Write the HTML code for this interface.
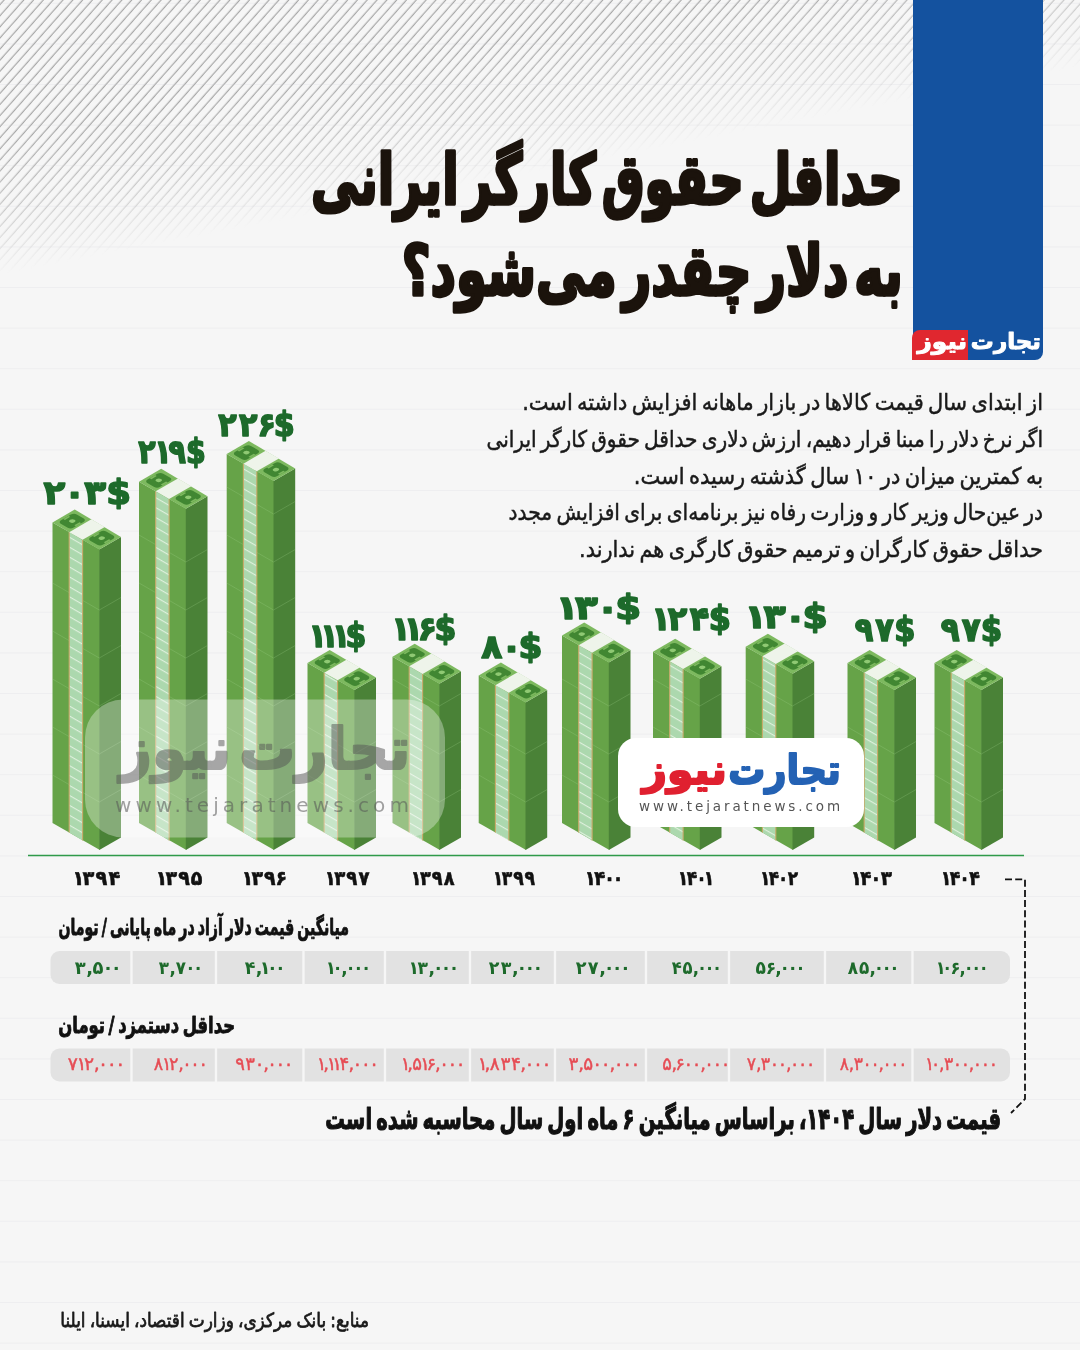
<!DOCTYPE html>
<html lang="fa"><head><meta charset="utf-8"><title>حداقل حقوق کارگر ایرانی به دلار چقدر می‌شود؟</title>
<style>html,body{margin:0;padding:0;background:#f6f6f6}body{width:1080px;height:1350px;overflow:hidden;position:relative}svg{display:block;position:absolute;left:0;top:0}text{font-family:"DejaVu Sans","Liberation Sans",sans-serif}</style></head><body>
<svg width="1080" height="1350" viewBox="0 0 1080 1350">
<defs>
<pattern id="hatch" width="40" height="7.35" patternUnits="userSpaceOnUse" patternTransform="rotate(-48.5)"><line x1="0" y1="3" x2="40" y2="3" stroke="#888" stroke-width=".9"/></pattern>
<linearGradient id="fade" gradientUnits="userSpaceOnUse" x1="0" y1="140" x2="25" y2="270"><stop offset="0" stop-color="#fff"/><stop offset=".5" stop-color="#999"/><stop offset="1" stop-color="#000"/></linearGradient>
<mask id="hm"><rect x="0" y="0" width="1080" height="300" fill="url(#fade)"/></mask>
<pattern id="strap" width="60" height="8.6" patternUnits="userSpaceOnUse" patternTransform="rotate(30)"><rect width="60" height="8.6" fill="#acd8ae"/><rect y="0" width="60" height="1.1" fill="#dff0dd"/></pattern>
</defs>
<rect width="1080" height="1350" fill="#f6f6f6"/>
<rect x="0" y="0" width="1080" height="300" fill="url(#hatch)" mask="url(#hm)"/>
<path d="M0 3.3H1080M0 43.9H1080M0 84.5H1080M0 125.1H1080M0 165.7H1080M0 206.3H1080M0 246.9H1080M0 287.5H1080M0 328.1H1080M0 368.7H1080M0 409.3H1080M0 449.9H1080M0 490.5H1080M0 531.1H1080M0 571.7H1080M0 612.3H1080M0 652.9H1080M0 693.5H1080M0 734.1H1080M0 774.7H1080M0 815.3H1080M0 855.9H1080M0 896.5H1080M0 937.1H1080M0 977.7H1080M0 1018.3H1080M0 1058.9H1080M0 1099.5H1080M0 1140.1H1080M0 1180.7H1080M0 1221.3H1080M0 1261.9H1080M0 1302.5H1080M0 1343.1H1080" stroke="#c4c4d2" stroke-opacity=".16" stroke-width="1"/>
<path d="M913 0 H1043 V352 a8 8 0 0 1 -8 8 H913 Z" fill="#14529f"/>
<path d="M912 338 a8 8 0 0 1 8 -8 H968 V360 H912 Z" fill="#e0272f"/>
<text id="lg1" transform="translate(1041.00 348.5) scale(1.0455 1)" direction="rtl" font-weight="bold" font-size="22" fill="#fff" stroke="#fff" stroke-width="1" stroke-linejoin="round">تجارت</text>
<text id="lg2" transform="translate(967.00 348.5) scale(1.1333 1)" direction="rtl" font-weight="bold" font-size="22" fill="#fff" stroke="#fff" stroke-width="1" stroke-linejoin="round">نیوز</text>
<text id="t1" transform="translate(903.00 204.0) scale(0.6869 1)" direction="rtl" font-weight="bold" font-size="70" fill="#1b130c" stroke="#1b130c" stroke-width="3.6" stroke-linejoin="round" word-spacing="-16">حداقل حقوق کارگر ایرانی</text>
<text id="t2" transform="translate(903.00 295.0) scale(0.7090 1)" direction="rtl" font-weight="bold" font-size="70" fill="#1b130c" stroke="#1b130c" stroke-width="3.6" stroke-linejoin="round" word-spacing="-16">به دلار چقدر می‌شود؟</text>
<text id="p0" transform="translate(1043.00 410.3) scale(0.9106 1)" direction="rtl" font-size="23" fill="#1a1a1a" stroke="#1a1a1a" stroke-width="0.5" stroke-linejoin="round" word-spacing="-2.5">از ابتدای سال قیمت کالاها در بازار ماهانه افزایش داشته است.</text>
<text id="p1" transform="translate(1043.00 446.9) scale(0.8752 1)" direction="rtl" font-size="23" fill="#1a1a1a" stroke="#1a1a1a" stroke-width="0.5" stroke-linejoin="round" word-spacing="-2.5">اگر نرخ دلار را مبنا قرار دهیم، ارزش دلاری حداقل حقوق کارگر ایرانی</text>
<text id="p2" transform="translate(1043.00 483.5) scale(0.9146 1)" direction="rtl" font-size="23" fill="#1a1a1a" stroke="#1a1a1a" stroke-width="0.5" stroke-linejoin="round" word-spacing="-2.5">به کمترین میزان در ۱۰ سال گذشته رسیده است.</text>
<text id="p3" transform="translate(1043.00 520.1) scale(0.8810 1)" direction="rtl" font-size="23" fill="#1a1a1a" stroke="#1a1a1a" stroke-width="0.5" stroke-linejoin="round" word-spacing="-2.5">در عین‌حال وزیر کار و وزارت رفاه نیز برنامه‌ای برای افزایش مجدد</text>
<text id="p4" transform="translate(1043.00 556.7) scale(0.9077 1)" direction="rtl" font-size="23" fill="#1a1a1a" stroke="#1a1a1a" stroke-width="0.5" stroke-linejoin="round" word-spacing="-2.5">حداقل حقوق کارگران و ترمیم حقوق کارگری هم ندارند.</text>
<polygon points="52.5,522.5 99.9,549.5 99.9,850.0 52.5,823.0" fill="#66a348"/>
<polygon points="99.3,549.5 121.0,537.0 121.0,837.5 99.3,850.0" fill="#4a8237"/>
<path d="M52.5 775.0 l46.8 27.0 l21.7 -12.5M52.5 727.0 l46.8 27.0 l21.7 -12.5M52.5 679.0 l46.8 27.0 l21.7 -12.5M52.5 631.0 l46.8 27.0 l21.7 -12.5M52.5 583.0 l46.8 27.0 l21.7 -12.5" stroke="#a5d68e" stroke-opacity=".35" stroke-width=".7" fill="none"/>
<polygon points="69.2,532.1 82.6,539.9 82.6,840.4 69.2,832.6" fill="url(#strap)"/>
<path d="M69.2 532.1 V832.6 M82.6 539.9 V840.4" stroke="#c9aa6c" stroke-width="1.1"/>
<polygon points="74.7,509.5 121.0,537.0 99.3,549.5 52.5,522.5" fill="#7db95f"/>
<g transform="matrix(46.80 27.02 22.20 -12.82 52.50 522.50)">
<rect x="0.050" y=".14" width=".27" height=".72" rx=".06" ry=".14" fill="#418732"/><ellipse cx="0.185" cy=".5" rx=".045" ry=".1" fill="#8fc973"/>
<path d="M0.050 .38h.035v.24h-.035zM0.285 .38h.035v.24h-.035z" fill="#7db95f"/>
<rect x="0.680" y=".14" width=".27" height=".72" rx=".06" ry=".14" fill="#418732"/><ellipse cx="0.815" cy=".5" rx=".045" ry=".1" fill="#8fc973"/>
<path d="M0.680 .38h.035v.24h-.035zM0.915 .38h.035v.24h-.035z" fill="#7db95f"/>
<rect x="0.357" y="0" width="0.286" height="1" fill="#eef4ea"/>
</g>
<polygon points="139.0,481.7 186.4,508.7 186.4,850.0 139.0,823.0" fill="#66a348"/>
<polygon points="185.8,508.7 207.5,496.2 207.5,837.5 185.8,850.0" fill="#4a8237"/>
<path d="M139.0 775.0 l46.8 27.0 l21.7 -12.5M139.0 727.0 l46.8 27.0 l21.7 -12.5M139.0 679.0 l46.8 27.0 l21.7 -12.5M139.0 631.0 l46.8 27.0 l21.7 -12.5M139.0 583.0 l46.8 27.0 l21.7 -12.5M139.0 535.0 l46.8 27.0 l21.7 -12.5" stroke="#a5d68e" stroke-opacity=".35" stroke-width=".7" fill="none"/>
<polygon points="155.7,491.3 169.1,499.1 169.1,840.4 155.7,832.6" fill="url(#strap)"/>
<path d="M155.7 491.3 V832.6 M169.1 499.1 V840.4" stroke="#c9aa6c" stroke-width="1.1"/>
<polygon points="161.2,468.7 207.5,496.2 185.8,508.7 139.0,481.7" fill="#7db95f"/>
<g transform="matrix(46.80 27.02 22.20 -12.82 139.00 481.70)">
<rect x="0.050" y=".14" width=".27" height=".72" rx=".06" ry=".14" fill="#418732"/><ellipse cx="0.185" cy=".5" rx=".045" ry=".1" fill="#8fc973"/>
<path d="M0.050 .38h.035v.24h-.035zM0.285 .38h.035v.24h-.035z" fill="#7db95f"/>
<rect x="0.680" y=".14" width=".27" height=".72" rx=".06" ry=".14" fill="#418732"/><ellipse cx="0.815" cy=".5" rx=".045" ry=".1" fill="#8fc973"/>
<path d="M0.680 .38h.035v.24h-.035zM0.915 .38h.035v.24h-.035z" fill="#7db95f"/>
<rect x="0.357" y="0" width="0.286" height="1" fill="#eef4ea"/>
</g>
<polygon points="226.7,454.0 274.1,481.0 274.1,850.0 226.7,823.0" fill="#66a348"/>
<polygon points="273.5,481.0 295.2,468.5 295.2,837.5 273.5,850.0" fill="#4a8237"/>
<path d="M226.7 775.0 l46.8 27.0 l21.7 -12.5M226.7 727.0 l46.8 27.0 l21.7 -12.5M226.7 679.0 l46.8 27.0 l21.7 -12.5M226.7 631.0 l46.8 27.0 l21.7 -12.5M226.7 583.0 l46.8 27.0 l21.7 -12.5M226.7 535.0 l46.8 27.0 l21.7 -12.5M226.7 487.0 l46.8 27.0 l21.7 -12.5" stroke="#a5d68e" stroke-opacity=".35" stroke-width=".7" fill="none"/>
<polygon points="243.4,463.6 256.8,471.4 256.8,840.4 243.4,832.6" fill="url(#strap)"/>
<path d="M243.4 463.6 V832.6 M256.8 471.4 V840.4" stroke="#c9aa6c" stroke-width="1.1"/>
<polygon points="248.9,441.0 295.2,468.5 273.5,481.0 226.7,454.0" fill="#7db95f"/>
<g transform="matrix(46.80 27.02 22.20 -12.82 226.70 454.00)">
<rect x="0.050" y=".14" width=".27" height=".72" rx=".06" ry=".14" fill="#418732"/><ellipse cx="0.185" cy=".5" rx=".045" ry=".1" fill="#8fc973"/>
<path d="M0.050 .38h.035v.24h-.035zM0.285 .38h.035v.24h-.035z" fill="#7db95f"/>
<rect x="0.680" y=".14" width=".27" height=".72" rx=".06" ry=".14" fill="#418732"/><ellipse cx="0.815" cy=".5" rx=".045" ry=".1" fill="#8fc973"/>
<path d="M0.680 .38h.035v.24h-.035zM0.915 .38h.035v.24h-.035z" fill="#7db95f"/>
<rect x="0.357" y="0" width="0.286" height="1" fill="#eef4ea"/>
</g>
<polygon points="307.5,663.0 354.9,690.0 354.9,850.0 307.5,823.0" fill="#66a348"/>
<polygon points="354.3,690.0 376.0,677.5 376.0,837.5 354.3,850.0" fill="#4a8237"/>
<path d="M307.5 775.0 l46.8 27.0 l21.7 -12.5M307.5 727.0 l46.8 27.0 l21.7 -12.5" stroke="#a5d68e" stroke-opacity=".35" stroke-width=".7" fill="none"/>
<polygon points="324.2,672.6 337.6,680.4 337.6,840.4 324.2,832.6" fill="url(#strap)"/>
<path d="M324.2 672.6 V832.6 M337.6 680.4 V840.4" stroke="#c9aa6c" stroke-width="1.1"/>
<polygon points="329.7,650.0 376.0,677.5 354.3,690.0 307.5,663.0" fill="#7db95f"/>
<g transform="matrix(46.80 27.02 22.20 -12.82 307.50 663.00)">
<rect x="0.050" y=".14" width=".27" height=".72" rx=".06" ry=".14" fill="#418732"/><ellipse cx="0.185" cy=".5" rx=".045" ry=".1" fill="#8fc973"/>
<path d="M0.050 .38h.035v.24h-.035zM0.285 .38h.035v.24h-.035z" fill="#7db95f"/>
<rect x="0.680" y=".14" width=".27" height=".72" rx=".06" ry=".14" fill="#418732"/><ellipse cx="0.815" cy=".5" rx=".045" ry=".1" fill="#8fc973"/>
<path d="M0.680 .38h.035v.24h-.035zM0.915 .38h.035v.24h-.035z" fill="#7db95f"/>
<rect x="0.357" y="0" width="0.286" height="1" fill="#eef4ea"/>
</g>
<polygon points="392.5,656.7 439.9,683.7 439.9,850.0 392.5,823.0" fill="#66a348"/>
<polygon points="439.3,683.7 461.0,671.2 461.0,837.5 439.3,850.0" fill="#4a8237"/>
<path d="M392.5 775.0 l46.8 27.0 l21.7 -12.5M392.5 727.0 l46.8 27.0 l21.7 -12.5M392.5 679.0 l46.8 27.0 l21.7 -12.5" stroke="#a5d68e" stroke-opacity=".35" stroke-width=".7" fill="none"/>
<polygon points="409.2,666.3 422.6,674.1 422.6,840.4 409.2,832.6" fill="url(#strap)"/>
<path d="M409.2 666.3 V832.6 M422.6 674.1 V840.4" stroke="#c9aa6c" stroke-width="1.1"/>
<polygon points="414.7,643.7 461.0,671.2 439.3,683.7 392.5,656.7" fill="#7db95f"/>
<g transform="matrix(46.80 27.02 22.20 -12.82 392.50 656.70)">
<rect x="0.050" y=".14" width=".27" height=".72" rx=".06" ry=".14" fill="#418732"/><ellipse cx="0.185" cy=".5" rx=".045" ry=".1" fill="#8fc973"/>
<path d="M0.050 .38h.035v.24h-.035zM0.285 .38h.035v.24h-.035z" fill="#7db95f"/>
<rect x="0.680" y=".14" width=".27" height=".72" rx=".06" ry=".14" fill="#418732"/><ellipse cx="0.815" cy=".5" rx=".045" ry=".1" fill="#8fc973"/>
<path d="M0.680 .38h.035v.24h-.035zM0.915 .38h.035v.24h-.035z" fill="#7db95f"/>
<rect x="0.357" y="0" width="0.286" height="1" fill="#eef4ea"/>
</g>
<polygon points="478.7,675.5 526.1,702.5 526.1,850.0 478.7,823.0" fill="#66a348"/>
<polygon points="525.5,702.5 547.2,690.0 547.2,837.5 525.5,850.0" fill="#4a8237"/>
<path d="M478.7 775.0 l46.8 27.0 l21.7 -12.5M478.7 727.0 l46.8 27.0 l21.7 -12.5" stroke="#a5d68e" stroke-opacity=".35" stroke-width=".7" fill="none"/>
<polygon points="495.4,685.1 508.8,692.9 508.8,840.4 495.4,832.6" fill="url(#strap)"/>
<path d="M495.4 685.1 V832.6 M508.8 692.9 V840.4" stroke="#c9aa6c" stroke-width="1.1"/>
<polygon points="500.9,662.5 547.2,690.0 525.5,702.5 478.7,675.5" fill="#7db95f"/>
<g transform="matrix(46.80 27.02 22.20 -12.82 478.70 675.50)">
<rect x="0.050" y=".14" width=".27" height=".72" rx=".06" ry=".14" fill="#418732"/><ellipse cx="0.185" cy=".5" rx=".045" ry=".1" fill="#8fc973"/>
<path d="M0.050 .38h.035v.24h-.035zM0.285 .38h.035v.24h-.035z" fill="#7db95f"/>
<rect x="0.680" y=".14" width=".27" height=".72" rx=".06" ry=".14" fill="#418732"/><ellipse cx="0.815" cy=".5" rx=".045" ry=".1" fill="#8fc973"/>
<path d="M0.680 .38h.035v.24h-.035zM0.915 .38h.035v.24h-.035z" fill="#7db95f"/>
<rect x="0.357" y="0" width="0.286" height="1" fill="#eef4ea"/>
</g>
<polygon points="562.0,635.5 609.4,662.5 609.4,850.0 562.0,823.0" fill="#66a348"/>
<polygon points="608.8,662.5 630.5,650.0 630.5,837.5 608.8,850.0" fill="#4a8237"/>
<path d="M562.0 775.0 l46.8 27.0 l21.7 -12.5M562.0 727.0 l46.8 27.0 l21.7 -12.5M562.0 679.0 l46.8 27.0 l21.7 -12.5" stroke="#a5d68e" stroke-opacity=".35" stroke-width=".7" fill="none"/>
<polygon points="578.7,645.1 592.1,652.9 592.1,840.4 578.7,832.6" fill="url(#strap)"/>
<path d="M578.7 645.1 V832.6 M592.1 652.9 V840.4" stroke="#c9aa6c" stroke-width="1.1"/>
<polygon points="584.2,622.5 630.5,650.0 608.8,662.5 562.0,635.5" fill="#7db95f"/>
<g transform="matrix(46.80 27.02 22.20 -12.82 562.00 635.50)">
<rect x="0.050" y=".14" width=".27" height=".72" rx=".06" ry=".14" fill="#418732"/><ellipse cx="0.185" cy=".5" rx=".045" ry=".1" fill="#8fc973"/>
<path d="M0.050 .38h.035v.24h-.035zM0.285 .38h.035v.24h-.035z" fill="#7db95f"/>
<rect x="0.680" y=".14" width=".27" height=".72" rx=".06" ry=".14" fill="#418732"/><ellipse cx="0.815" cy=".5" rx=".045" ry=".1" fill="#8fc973"/>
<path d="M0.680 .38h.035v.24h-.035zM0.915 .38h.035v.24h-.035z" fill="#7db95f"/>
<rect x="0.357" y="0" width="0.286" height="1" fill="#eef4ea"/>
</g>
<polygon points="653.0,651.7 700.4,678.7 700.4,850.0 653.0,823.0" fill="#66a348"/>
<polygon points="699.8,678.7 721.5,666.2 721.5,837.5 699.8,850.0" fill="#4a8237"/>
<path d="M653.0 775.0 l46.8 27.0 l21.7 -12.5M653.0 727.0 l46.8 27.0 l21.7 -12.5M653.0 679.0 l46.8 27.0 l21.7 -12.5" stroke="#a5d68e" stroke-opacity=".35" stroke-width=".7" fill="none"/>
<polygon points="669.7,661.3 683.1,669.1 683.1,840.4 669.7,832.6" fill="url(#strap)"/>
<path d="M669.7 661.3 V832.6 M683.1 669.1 V840.4" stroke="#c9aa6c" stroke-width="1.1"/>
<polygon points="675.2,638.7 721.5,666.2 699.8,678.7 653.0,651.7" fill="#7db95f"/>
<g transform="matrix(46.80 27.02 22.20 -12.82 653.00 651.70)">
<rect x="0.050" y=".14" width=".27" height=".72" rx=".06" ry=".14" fill="#418732"/><ellipse cx="0.185" cy=".5" rx=".045" ry=".1" fill="#8fc973"/>
<path d="M0.050 .38h.035v.24h-.035zM0.285 .38h.035v.24h-.035z" fill="#7db95f"/>
<rect x="0.680" y=".14" width=".27" height=".72" rx=".06" ry=".14" fill="#418732"/><ellipse cx="0.815" cy=".5" rx=".045" ry=".1" fill="#8fc973"/>
<path d="M0.680 .38h.035v.24h-.035zM0.915 .38h.035v.24h-.035z" fill="#7db95f"/>
<rect x="0.357" y="0" width="0.286" height="1" fill="#eef4ea"/>
</g>
<polygon points="745.7,646.7 793.1,673.7 793.1,850.0 745.7,823.0" fill="#66a348"/>
<polygon points="792.5,673.7 814.2,661.2 814.2,837.5 792.5,850.0" fill="#4a8237"/>
<path d="M745.7 775.0 l46.8 27.0 l21.7 -12.5M745.7 727.0 l46.8 27.0 l21.7 -12.5M745.7 679.0 l46.8 27.0 l21.7 -12.5" stroke="#a5d68e" stroke-opacity=".35" stroke-width=".7" fill="none"/>
<polygon points="762.4,656.3 775.8,664.1 775.8,840.4 762.4,832.6" fill="url(#strap)"/>
<path d="M762.4 656.3 V832.6 M775.8 664.1 V840.4" stroke="#c9aa6c" stroke-width="1.1"/>
<polygon points="767.9,633.7 814.2,661.2 792.5,673.7 745.7,646.7" fill="#7db95f"/>
<g transform="matrix(46.80 27.02 22.20 -12.82 745.70 646.70)">
<rect x="0.050" y=".14" width=".27" height=".72" rx=".06" ry=".14" fill="#418732"/><ellipse cx="0.185" cy=".5" rx=".045" ry=".1" fill="#8fc973"/>
<path d="M0.050 .38h.035v.24h-.035zM0.285 .38h.035v.24h-.035z" fill="#7db95f"/>
<rect x="0.680" y=".14" width=".27" height=".72" rx=".06" ry=".14" fill="#418732"/><ellipse cx="0.815" cy=".5" rx=".045" ry=".1" fill="#8fc973"/>
<path d="M0.680 .38h.035v.24h-.035zM0.915 .38h.035v.24h-.035z" fill="#7db95f"/>
<rect x="0.357" y="0" width="0.286" height="1" fill="#eef4ea"/>
</g>
<polygon points="847.5,663.0 894.9,690.0 894.9,850.0 847.5,823.0" fill="#66a348"/>
<polygon points="894.3,690.0 916.0,677.5 916.0,837.5 894.3,850.0" fill="#4a8237"/>
<path d="M847.5 775.0 l46.8 27.0 l21.7 -12.5M847.5 727.0 l46.8 27.0 l21.7 -12.5" stroke="#a5d68e" stroke-opacity=".35" stroke-width=".7" fill="none"/>
<polygon points="864.2,672.6 877.6,680.4 877.6,840.4 864.2,832.6" fill="url(#strap)"/>
<path d="M864.2 672.6 V832.6 M877.6 680.4 V840.4" stroke="#c9aa6c" stroke-width="1.1"/>
<polygon points="869.7,650.0 916.0,677.5 894.3,690.0 847.5,663.0" fill="#7db95f"/>
<g transform="matrix(46.80 27.02 22.20 -12.82 847.50 663.00)">
<rect x="0.050" y=".14" width=".27" height=".72" rx=".06" ry=".14" fill="#418732"/><ellipse cx="0.185" cy=".5" rx=".045" ry=".1" fill="#8fc973"/>
<path d="M0.050 .38h.035v.24h-.035zM0.285 .38h.035v.24h-.035z" fill="#7db95f"/>
<rect x="0.680" y=".14" width=".27" height=".72" rx=".06" ry=".14" fill="#418732"/><ellipse cx="0.815" cy=".5" rx=".045" ry=".1" fill="#8fc973"/>
<path d="M0.680 .38h.035v.24h-.035zM0.915 .38h.035v.24h-.035z" fill="#7db95f"/>
<rect x="0.357" y="0" width="0.286" height="1" fill="#eef4ea"/>
</g>
<polygon points="934.5,663.0 981.9,690.0 981.9,850.0 934.5,823.0" fill="#66a348"/>
<polygon points="981.3,690.0 1003.0,677.5 1003.0,837.5 981.3,850.0" fill="#4a8237"/>
<path d="M934.5 775.0 l46.8 27.0 l21.7 -12.5M934.5 727.0 l46.8 27.0 l21.7 -12.5" stroke="#a5d68e" stroke-opacity=".35" stroke-width=".7" fill="none"/>
<polygon points="951.2,672.6 964.6,680.4 964.6,840.4 951.2,832.6" fill="url(#strap)"/>
<path d="M951.2 672.6 V832.6 M964.6 680.4 V840.4" stroke="#c9aa6c" stroke-width="1.1"/>
<polygon points="956.7,650.0 1003.0,677.5 981.3,690.0 934.5,663.0" fill="#7db95f"/>
<g transform="matrix(46.80 27.02 22.20 -12.82 934.50 663.00)">
<rect x="0.050" y=".14" width=".27" height=".72" rx=".06" ry=".14" fill="#418732"/><ellipse cx="0.185" cy=".5" rx=".045" ry=".1" fill="#8fc973"/>
<path d="M0.050 .38h.035v.24h-.035zM0.285 .38h.035v.24h-.035z" fill="#7db95f"/>
<rect x="0.680" y=".14" width=".27" height=".72" rx=".06" ry=".14" fill="#418732"/><ellipse cx="0.815" cy=".5" rx=".045" ry=".1" fill="#8fc973"/>
<path d="M0.680 .38h.035v.24h-.035zM0.915 .38h.035v.24h-.035z" fill="#7db95f"/>
<rect x="0.357" y="0" width="0.286" height="1" fill="#eef4ea"/>
</g>
<path d="M28 855.5 H1024" stroke="#2f9a4a" stroke-width="1.6"/>
<rect x="85" y="699.5" width="360" height="138" rx="38" fill="#fff" fill-opacity=".33"/>
<text id="wm1" transform="translate(265.00 769.0) scale(0.9669 1)" text-anchor="middle" font-weight="bold" font-size="58" fill="#555" stroke="#555" stroke-width="2.2" stroke-linejoin="round" opacity=".5" word-spacing="-12">تجارت نیوز</text>
<text id="wm2" transform="translate(264.00 811.5) scale(1.0000 1)" text-anchor="middle" font-size="20" fill="#555" style="font-family:"Liberation Sans","DejaVu Sans",sans-serif" letter-spacing="4.06" fill-opacity=".55">www.tejaratnews.com</text>
<rect x="618" y="738" width="246" height="89" rx="18" fill="#fff"/>
<text id="lg3" transform="translate(841.00 783.5) scale(0.9016 1)" direction="rtl" font-weight="bold" font-size="41" fill="#2462b4" stroke="#2462b4" stroke-width="2" stroke-linejoin="round">تجارت</text>
<text id="lg5" transform="translate(727.00 783.5) scale(1.0363 1)" direction="rtl" font-weight="bold" font-size="41" fill="#e02030" stroke="#e02030" stroke-width="2" stroke-linejoin="round">نیوز</text>
<text id="lg4" transform="translate(741.00 811.0) scale(1.0000 1)" text-anchor="middle" font-size="13.5" fill="#555" style="font-family:"Liberation Sans","DejaVu Sans",sans-serif" letter-spacing="2.89">www.tejaratnews.com</text>
<text id="bl0" transform="translate(43.00 504.0) scale(1.0792 1)" x="0.40" dx="0 -1.23 -1.23 0.29" font-weight="bold" font-size="33" fill="#1d6a2b" stroke="#1d6a2b" stroke-width="1.6" stroke-linejoin="round">۲۰۳$</text>
<text id="yr0" transform="translate(75.00 884.5) scale(0.9673 1)" x="-2.49" dx="0 -1.84 1.12 1.36" font-weight="bold" font-size="20" fill="#111" stroke="#111" stroke-width="0.6" stroke-linejoin="round">۱۳۹۴</text>
<text id="bl1" transform="translate(138.00 462.5) scale(0.8633 1)" x="0.40" dx="0 -1.71 -3.64 0.06" font-weight="bold" font-size="33" fill="#1d6a2b" stroke="#1d6a2b" stroke-width="1.6" stroke-linejoin="round">۲۱۹$</text>
<text id="yr1" transform="translate(158.00 884.5) scale(0.9511 1)" x="-2.49" dx="0 -1.84 1.12 0.99" font-weight="bold" font-size="20" fill="#111" stroke="#111" stroke-width="0.6" stroke-linejoin="round">۱۳۹۵</text>
<text id="bl2" transform="translate(218.00 435.5) scale(0.9157 1)" x="0.40" dx="0 2.49 0.08 -2.45" font-weight="bold" font-size="33" fill="#1d6a2b" stroke="#1d6a2b" stroke-width="1.6" stroke-linejoin="round">۲۲۶$</text>
<text id="yr2" transform="translate(244.00 884.5) scale(0.9462 1)" x="-2.49" dx="0 -1.84 1.12 -0.11" font-weight="bold" font-size="20" fill="#111" stroke="#111" stroke-width="0.6" stroke-linejoin="round">۱۳۹۶</text>
<text id="bl3" transform="translate(312.00 647.0) scale(0.9067 1)" x="-3.81" dx="0 -7.24 -7.24 -5.21" font-weight="bold" font-size="33" fill="#1d6a2b" stroke="#1d6a2b" stroke-width="1.6" stroke-linejoin="round">۱۱۱$</text>
<text id="yr3" transform="translate(327.00 884.5) scale(0.9060 1)" x="-2.49" dx="0 -1.84 1.12 1.31" font-weight="bold" font-size="20" fill="#111" stroke="#111" stroke-width="0.6" stroke-linejoin="round">۱۳۹۷</text>
<text id="bl4" transform="translate(395.00 640.0) scale(0.9524 1)" x="-3.81" dx="0 -7.24 -5.45 -2.45" font-weight="bold" font-size="33" fill="#1d6a2b" stroke="#1d6a2b" stroke-width="1.6" stroke-linejoin="round">۱۱۶$</text>
<text id="yr4" transform="translate(413.00 884.5) scale(0.8848 1)" x="-2.49" dx="0 -1.84 1.12 1.31" font-weight="bold" font-size="20" fill="#111" stroke="#111" stroke-width="0.6" stroke-linejoin="round">۱۳۹۸</text>
<text id="bl5" transform="translate(481.00 657.5) scale(1.0453 1)" x="0.32" dx="0 -1.31 -3.41" font-weight="bold" font-size="33" fill="#1d6a2b" stroke="#1d6a2b" stroke-width="1.6" stroke-linejoin="round">۸۰$</text>
<text id="yr5" transform="translate(495.00 884.5) scale(0.8602 1)" x="-2.49" dx="0 -1.84 1.12 0.98" font-weight="bold" font-size="20" fill="#111" stroke="#111" stroke-width="0.6" stroke-linejoin="round">۱۳۹۹</text>
<text id="bl6" transform="translate(560.00 619.0) scale(1.1289 1)" x="-3.81" dx="0 -3.03 -1.27 -3.41" font-weight="bold" font-size="33" fill="#1d6a2b" stroke="#1d6a2b" stroke-width="1.6" stroke-linejoin="round">۱۳۰$</text>
<text id="yr6" transform="translate(587.00 884.5) scale(0.9080 1)" x="-2.49" dx="0 -1.84 -1.26 -3.01" font-weight="bold" font-size="20" fill="#111" stroke="#111" stroke-width="0.6" stroke-linejoin="round">۱۴۰۰</text>
<text id="bl7" transform="translate(655.00 630.0) scale(0.9666 1)" x="-3.81" dx="0 -3.03 2.49 -0.52" font-weight="bold" font-size="33" fill="#1d6a2b" stroke="#1d6a2b" stroke-width="1.6" stroke-linejoin="round">۱۲۴$</text>
<text id="yr7" transform="translate(680.00 884.5) scale(0.8599 1)" x="-2.49" dx="0 -1.84 -1.26 -3.30" font-weight="bold" font-size="20" fill="#111" stroke="#111" stroke-width="0.6" stroke-linejoin="round">۱۴۰۱</text>
<text id="bl8" transform="translate(748.80 628.0) scale(1.1005 1)" x="-3.81" dx="0 -3.03 -1.27 -3.41" font-weight="bold" font-size="33" fill="#1d6a2b" stroke="#1d6a2b" stroke-width="1.6" stroke-linejoin="round">۱۳۰$</text>
<text id="yr8" transform="translate(762.00 884.5) scale(0.8473 1)" x="-2.49" dx="0 -1.84 -1.26 -0.75" font-weight="bold" font-size="20" fill="#111" stroke="#111" stroke-width="0.6" stroke-linejoin="round">۱۴۰۲</text>
<text id="bl9" transform="translate(855.00 641.0) scale(0.9221 1)" x="-0.22" dx="0 2.16 0.24" font-weight="bold" font-size="33" fill="#1d6a2b" stroke="#1d6a2b" stroke-width="1.6" stroke-linejoin="round">۹۷$</text>
<text id="yr9" transform="translate(853.00 884.5) scale(0.9181 1)" x="-2.49" dx="0 -1.84 -1.26 -0.75" font-weight="bold" font-size="20" fill="#111" stroke="#111" stroke-width="0.6" stroke-linejoin="round">۱۴۰۳</text>
<text id="bl10" transform="translate(941.00 641.0) scale(0.9377 1)" x="-0.22" dx="0 2.16 0.24" font-weight="bold" font-size="33" fill="#1d6a2b" stroke="#1d6a2b" stroke-width="1.6" stroke-linejoin="round">۹۷$</text>
<text id="yr10" transform="translate(943.00 884.5) scale(0.8688 1)" x="-2.49" dx="0 -1.84 -1.26 -0.75" font-weight="bold" font-size="20" fill="#111" stroke="#111" stroke-width="0.6" stroke-linejoin="round">۱۴۰۴</text>
<text id="h1" transform="translate(349.00 935.2) scale(0.6137 1)" direction="rtl" font-weight="bold" font-size="23" fill="#111" stroke="#111" stroke-width="0.9" stroke-linejoin="round" word-spacing="-3">میانگین قیمت دلار آزاد در ماه پایانی / تومان</text>
<text id="h2" transform="translate(235.00 1032.8) scale(0.7146 1)" direction="rtl" font-weight="bold" font-size="23" fill="#111" stroke="#111" stroke-width="0.9" stroke-linejoin="round" word-spacing="-3">حداقل دستمزد / تومان</text>
<rect x="50.5" y="951.0" width="959.5" height="33" rx="9" fill="#e2e2e2"/>
<path d="M131.5 950.0v35M216.0 950.0v35M303.5 950.0v35M385.0 950.0v35M470.0 950.0v35M555.0 950.0v35M646.0 950.0v35M729.0 950.0v35M825.0 950.0v35M912.5 950.0v35" stroke="#f6f6f6" stroke-width="2.4"/>
<text id="a0" transform="translate(75.00 973.6) scale(0.9982 1)" x="-0.22" dx="0 0.60 -0.58 -1.00 -2.71" font-weight="bold" font-size="18" fill="#1d6a2b">۳,۵۰۰</text>
<text id="a1" transform="translate(159.00 973.6) scale(0.9299 1)" x="-0.22" dx="0 0.60 -0.30 -0.72 -2.71" font-weight="bold" font-size="18" fill="#1d6a2b">۳,۷۰۰</text>
<text id="a2" transform="translate(245.00 973.6) scale(0.9753 1)" x="-0.22" dx="0 0.17 -2.55 -3.69 -2.71" font-weight="bold" font-size="18" fill="#1d6a2b">۴,۱۰۰</text>
<text id="a3" transform="translate(328.00 973.6) scale(0.9282 1)" x="-2.51" dx="0 -3.69 -1.41 -2.29 -2.71 -2.71" font-weight="bold" font-size="18" fill="#1d6a2b">۱۰,۰۰۰</text>
<text id="a4" transform="translate(411.00 973.6) scale(0.9538 1)" x="-2.51" dx="0 -1.65 0.60 -2.29 -2.71 -2.71" font-weight="bold" font-size="18" fill="#1d6a2b">۱۳,۰۰۰</text>
<text id="a5" transform="translate(489.00 973.6) scale(0.9713 1)" x="-0.22" dx="0 1.36 0.60 -2.29 -2.71 -2.71" font-weight="bold" font-size="18" fill="#1d6a2b">۲۳,۰۰۰</text>
<text id="a6" transform="translate(576.00 973.6) scale(0.9823 1)" x="-0.22" dx="0 1.32 0.58 -2.29 -2.71 -2.71" font-weight="bold" font-size="18" fill="#1d6a2b">۲۷,۰۰۰</text>
<text id="a7" transform="translate(672.00 973.6) scale(0.9152 1)" x="-0.22" dx="0 0.58 0.30 -2.29 -2.71 -2.71" font-weight="bold" font-size="18" fill="#1d6a2b">۴۵,۰۰۰</text>
<text id="a8" transform="translate(756.00 973.6) scale(0.9491 1)" x="-0.54" dx="0 -0.28 -0.89 -2.29 -2.71 -2.71" font-weight="bold" font-size="18" fill="#1d6a2b">۵۶,۰۰۰</text>
<text id="a9" transform="translate(848.00 973.6) scale(0.9372 1)" x="-0.26" dx="0 0.99 0.30 -2.29 -2.71 -2.71" font-weight="bold" font-size="18" fill="#1d6a2b">۸۵,۰۰۰</text>
<text id="a10" transform="translate(938.00 973.6) scale(0.9033 1)" x="-2.51" dx="0 -3.69 -1.99 -0.89 -2.29 -2.71 -2.71" font-weight="bold" font-size="18" fill="#1d6a2b">۱۰۶,۰۰۰</text>
<rect x="50.5" y="1048.5" width="959.5" height="33" rx="9" fill="#e2e2e2"/>
<path d="M131.5 1047.5v35M216.0 1047.5v35M303.5 1047.5v35M385.0 1047.5v35M470.0 1047.5v35M555.0 1047.5v35M646.0 1047.5v35M729.0 1047.5v35M825.0 1047.5v35M912.5 1047.5v35" stroke="#f6f6f6" stroke-width="2.4"/>
<text id="b0" transform="translate(68.00 1069.5) scale(1.0438 1)" x="-0.30" dx="0 -1.17 -2.44 -0.40 -1.55 -1.39 -1.39" font-size="18" fill="#e64d55" stroke="#e64d55" stroke-width="0.45" stroke-linejoin="round">۷۱۲,۰۰۰</text>
<text id="b1" transform="translate(154.00 1069.5) scale(0.9779 1)" x="-0.30" dx="0 -1.17 -2.44 -0.40 -1.55 -1.39 -1.39" font-size="18" fill="#e64d55" stroke="#e64d55" stroke-width="0.45" stroke-linejoin="round">۸۱۲,۰۰۰</text>
<text id="b2" transform="translate(236.00 1069.5) scale(0.9972 1)" x="-0.65" dx="0 0.34 -0.30 -1.18 -1.55 -1.39 -1.39" font-size="18" fill="#e64d55" stroke="#e64d55" stroke-width="0.45" stroke-linejoin="round">۹۳۰,۰۰۰</text>
<text id="b3" transform="translate(319.00 1069.5) scale(1.0036 1)" x="-2.22" dx="0 -3.10 -2.40 -4.16 -2.44 -0.78 -1.55 -1.39 -1.39" font-size="18" fill="#e64d55" stroke="#e64d55" stroke-width="0.45" stroke-linejoin="round">۱,۱۱۴,۰۰۰</text>
<text id="b4" transform="translate(403.00 1069.5) scale(1.0030 1)" x="-2.22" dx="0 -3.10 -0.89 -1.57 -3.54 -1.24 -1.55 -1.39 -1.39" font-size="18" fill="#e64d55" stroke="#e64d55" stroke-width="0.45" stroke-linejoin="round">۱,۵۱۶,۰۰۰</text>
<text id="b5" transform="translate(480.00 1069.5) scale(1.0301 1)" x="-2.22" dx="0 -3.10 -0.49 0.60 0.57 -0.78 -1.55 -1.39 -1.39" font-size="18" fill="#e64d55" stroke="#e64d55" stroke-width="0.45" stroke-linejoin="round">۱,۸۳۴,۰۰۰</text>
<text id="b6" transform="translate(569.00 1069.5) scale(1.0194 1)" x="-0.44" dx="0 -0.10 -0.89 -0.73 -1.39 -1.18 -1.55 -1.39 -1.39" font-size="18" fill="#e64d55" stroke="#e64d55" stroke-width="0.45" stroke-linejoin="round">۳,۵۰۰,۰۰۰</text>
<text id="b7" transform="translate(663.00 1069.5) scale(0.9946 1)" x="-0.71" dx="0 -0.52 -1.79 -1.45 -1.39 -1.18 -1.55 -1.39 -1.39" font-size="18" fill="#e64d55" stroke="#e64d55" stroke-width="0.45" stroke-linejoin="round">۵,۶۰۰,۰۰۰</text>
<text id="b8" transform="translate(747.00 1069.5) scale(0.9644 1)" x="-0.30" dx="0 -0.12 -0.63 -0.30 -1.39 -1.18 -1.55 -1.39 -1.39" font-size="18" fill="#e64d55" stroke="#e64d55" stroke-width="0.45" stroke-linejoin="round">۷,۳۰۰,۰۰۰</text>
<text id="b9" transform="translate(840.00 1069.5) scale(0.9505 1)" x="-0.30" dx="0 -0.12 -0.63 -0.30 -1.39 -1.18 -1.55 -1.39 -1.39" font-size="18" fill="#e64d55" stroke="#e64d55" stroke-width="0.45" stroke-linejoin="round">۸,۳۰۰,۰۰۰</text>
<text id="b10" transform="translate(927.00 1069.5) scale(0.9540 1)" x="-2.22" dx="0 -3.31 -1.18 -0.63 -0.30 -1.39 -1.18 -1.55 -1.39 -1.39" font-size="18" fill="#e64d55" stroke="#e64d55" stroke-width="0.45" stroke-linejoin="round">۱۰,۳۰۰,۰۰۰</text>
<path d="M1005 879.3 H1025 V1099 L1011 1113" fill="none" stroke="#111" stroke-width="1.8" stroke-dasharray="7 3.2"/>
<text id="nt" transform="translate(1001.00 1129.0) scale(0.6648 1)" direction="rtl" font-weight="bold" font-size="29.5" fill="#111" stroke="#111" stroke-width="1.2" stroke-linejoin="round" word-spacing="-4">قیمت دلار سال ۱۴۰۴، براساس میانگین ۶ ماه اول سال محاسبه شده است</text>
<text id="src" transform="translate(369.00 1326.5) scale(0.8678 1)" direction="rtl" font-size="19.5" fill="#1a1a1a" stroke="#1a1a1a" stroke-width="0.75" stroke-linejoin="round" word-spacing="-1.5">منابع: بانک مرکزی، وزارت اقتصاد، ایسنا، ایلنا</text>
</svg></body></html>
